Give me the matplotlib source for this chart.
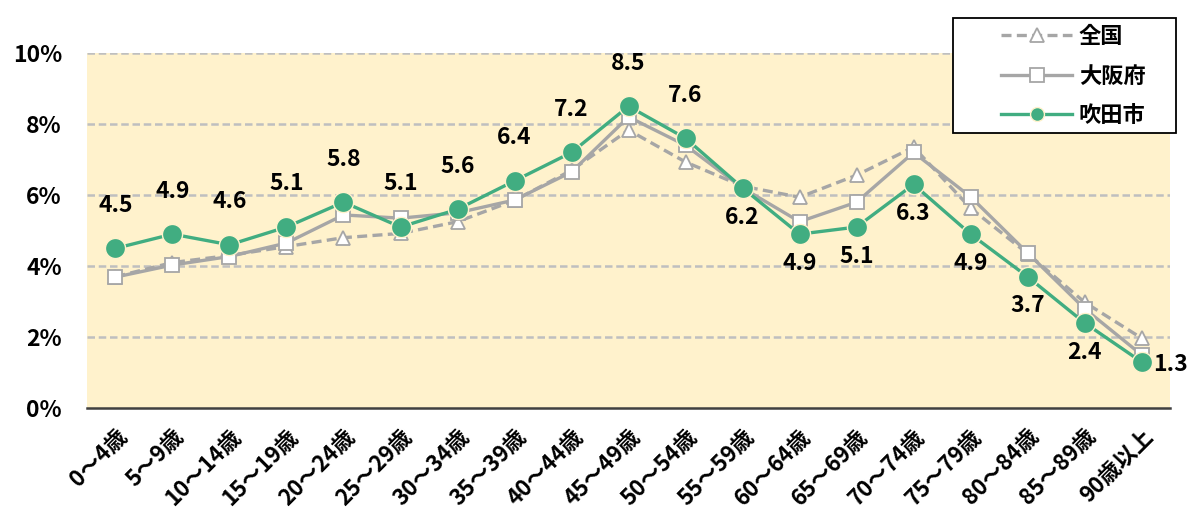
import matplotlib
matplotlib.use("Agg")
import matplotlib.pyplot as plt
from matplotlib.lines import Line2D
from matplotlib.patches import Rectangle

plt.rcParams['font.family'] = ['Noto Sans CJK JP', 'DejaVu Sans']

categories = ["0～4歳", "5～9歳", "10～14歳", "15～19歳", "20～24歳", "25～29歳",
              "30～34歳", "35～39歳", "40～44歳", "45～49歳", "50～54歳", "55～59歳",
              "60～64歳", "65～69歳", "70～74歳", "75～79歳", "80～84歳", "85～89歳",
              "90歳以上"]
zenkoku = [3.7, 4.1, 4.3, 4.55, 4.8, 4.92, 5.25, 5.85, 6.7, 7.83, 6.93, 6.25,
           5.94, 6.56, 7.35, 5.63, 4.35, 2.98, 1.97]
osaka = [3.69, 4.03, 4.27, 4.65, 5.44, 5.35, 5.5, 5.86, 6.65, 8.2, 7.4, 6.2,
         5.25, 5.8, 7.2, 5.95, 4.37, 2.8, 1.5]
suita = [4.5, 4.9, 4.6, 5.1, 5.8, 5.1, 5.6, 6.4, 7.2, 8.5, 7.6, 6.2,
         4.9, 5.1, 6.3, 4.9, 3.7, 2.4, 1.3]
yticks = [0, 2, 4, 6, 8, 10]
ytick_labels = ["0%", "2%", "4%", "6%", "8%", "10%"]
series_names = ["全国", "大阪府", "吹田市"]

GREEN = '#41AD81'
GRAY = '#A6A6A6'
BG = '#FFF2CC'

W, H = 1191, 528
fig = plt.figure(figsize=(W / 100, H / 100), dpi=100)
ax = fig.add_axes([0.073, 0.227, 0.9095, 0.6726])
ax.set_facecolor(BG)
x = list(range(len(categories)))

ax.plot(x, zenkoku, color=GRAY, lw=2.4, ls=(0, (3, 1.6)), marker='^', ms=10,
        mfc='white', mec=GRAY, mew=1.3, zorder=3)
ax.plot(x, osaka, color=GRAY, lw=2.4, ls='-', marker='s', ms=10,
        mfc='white', mec=GRAY, mew=1.3, zorder=4)
ax.plot(x, suita, color=GREEN, lw=2.4, ls='-', marker='o', ms=14.5,
        mfc=GREEN, mec=BG, mew=1.0, zorder=5)

for i, v in enumerate(suita):
    if i <= 10:
        off = (0, 31)
    elif i < len(suita) - 1:
        off = (0, -21)
    else:
        off = (21, -2)
    ax.annotate(f"{v:.1f}", (i, v), xytext=off, textcoords='offset points',
                ha='center', va='center', fontsize=16.5, fontweight='bold', zorder=6)

ax.set_xlim(-0.5, len(categories) - 0.5)
ax.set_ylim(0, 10)
ax.set_yticks(yticks)
ax.set_yticklabels(ytick_labels, fontsize=16.5, fontweight='bold')
ax.set_xticks(x)
ax.set_xticklabels(categories, rotation=45, ha='right', rotation_mode='anchor',
                   fontsize=16, fontweight='bold')
ax.tick_params(axis='both', length=0)
ax.tick_params(axis='y', pad=18)
ax.tick_params(axis='x', pad=12)
for yv in yticks[1:]:
    ax.axhline(yv, color='#BFBFBF', lw=1.8, ls=(0, (3, 1.5)), zorder=1)
for s in ['top', 'right', 'left']:
    ax.spines[s].set_visible(False)
ax.spines['bottom'].set_color('#404040')
ax.spines['bottom'].set_linewidth(1.8)
ax.spines['bottom'].set_zorder(2)

# legend frame (drawn separately to match the wide left padding)
fig.patches.append(Rectangle((953 / W, 1 - 133 / H), (1176 - 953) / W, (133 - 18) / H,
                             transform=fig.transFigure, facecolor='white',
                             edgecolor='black', lw=1.3, zorder=10))
handles = [
    Line2D([], [], color=GRAY, lw=2.4, ls=(0, (3, 1.6)), marker='^', ms=10, mfc='white', mec=GRAY, mew=1.3),
    Line2D([], [], color=GRAY, lw=2.4, ls='-', marker='s', ms=10, mfc='white', mec=GRAY, mew=1.3),
    Line2D([], [], color=GREEN, lw=2.4, ls='-', marker='o', ms=10, mfc=GREEN, mec=BG, mew=1.0),
]
leg = fig.legend(handles, series_names, loc='upper left', bbox_to_anchor=(1001 / W, 1 - 25 / H),
                 prop={'size': 16, 'weight': 'bold'}, frameon=False,
                 handlelength=3.2, borderpad=0, labelspacing=0.74, handletextpad=0.3,
                 borderaxespad=0)
leg.set_zorder(11)

fig.savefig("out.png", dpi=100)
